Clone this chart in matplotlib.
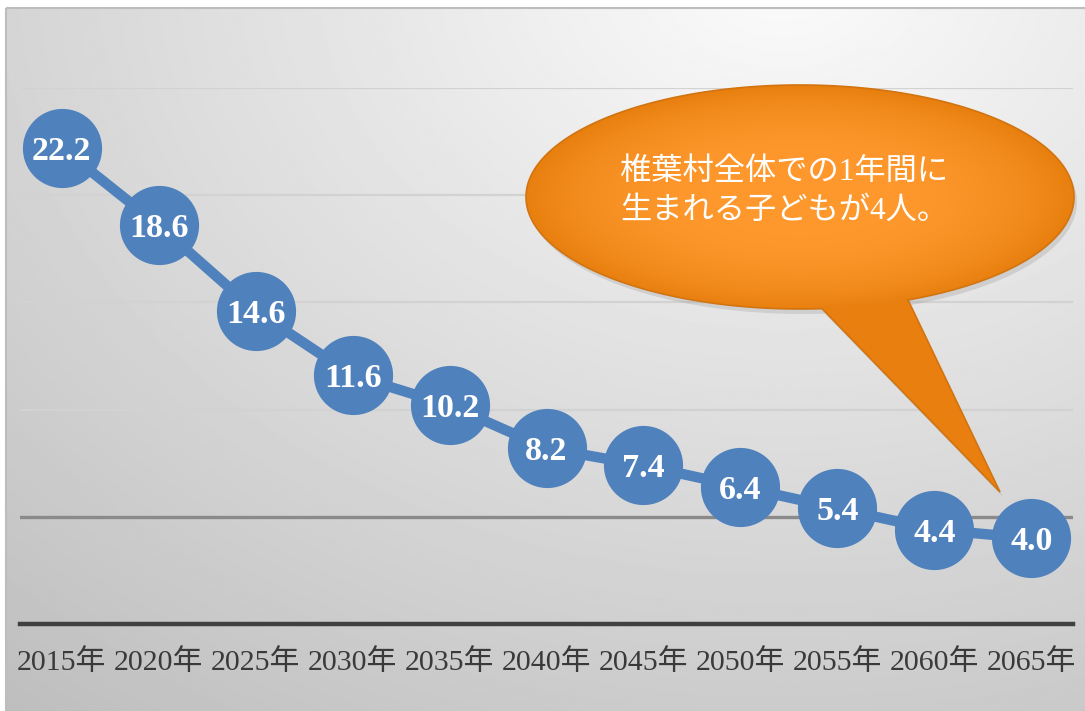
import numpy as np
import matplotlib.pyplot as plt
from matplotlib.patches import Polygon, Rectangle

# children born per year (Shiiba village), projection
years = ['2015年', '2020年', '2025年', '2030年', '2035年', '2040年',
         '2045年', '2050年', '2055年', '2060年', '2065年']
births = [22.2, 18.6, 14.6, 11.6, 10.2, 8.2, 7.4, 6.4, 5.4, 4.4, 4.0]
bubble_lines = ['椎葉村全体での1年間に', '生まれる子どもが4人。']

W, H = 1085, 711
BLUE = '#4F81BD'
FONTS = ['Liberation Serif', 'Noto Sans CJK JP', 'DejaVu Sans']

fig = plt.figure(figsize=(W / 100, H / 100), dpi=100)
fig.patch.set_facecolor('white')

# background panel with gray gradient
bg = fig.add_axes([0, 0, 1, 1], zorder=0)
bg.set_xlim(0, W)
bg.set_ylim(H, 0)
bg.axis('off')
gx, gy = np.meshgrid(np.linspace(0, 1, 600), np.linspace(0, 1, 400))
d = np.sqrt(((gx - 0.72) * 1.0) ** 2 + ((gy + 0.05) * 0.85) ** 2)
shade = 0.985 - 0.21 * d
bg.imshow(shade, cmap='gray', vmin=0, vmax=1, extent=(6, W, H, 8),
          aspect='auto', interpolation='bilinear', zorder=0)
bg.add_patch(Rectangle((6, 8), W, H, fill=False, edgecolor='#bdbdbd',
                       linewidth=1.5, zorder=1))

# main chart
ax = fig.add_axes([20 / W, (H - 624) / H, (1073 - 20) / W, (624 - 88) / H],
                  zorder=1)
ax.patch.set_alpha(0)
x = np.arange(len(years))
ax.set_xlim(-0.43, len(years) - 1 + 0.43)
ax.set_ylim(0, 25)
ax.set_yticks([0, 5, 10, 15, 20, 25])
ax.yaxis.grid(True)
for i, gl in enumerate(ax.get_ygridlines()):
    if i == 0:
        gl.set_visible(False)
    elif i == 1:
        gl.set_color('#8a8a8a')
        gl.set_linewidth(2.4)
    else:
        gl.set_color('#d2d2d2')
        gl.set_linewidth(1.6)
ax.set_axisbelow(True)
for s in ['top', 'right', 'left']:
    ax.spines[s].set_visible(False)
ax.spines['bottom'].set_color('#404040')
ax.spines['bottom'].set_linewidth(3.2)
ax.tick_params(axis='y', left=False, labelleft=False)
ax.tick_params(axis='x', length=0, pad=18)
ax.set_xticks(x)
ax.set_xticklabels(years, fontsize=21.5, color='#3a3a3a', family=FONTS)

ax.plot(x, births, color=BLUE, linewidth=7.5, marker='o', markersize=57,
        markerfacecolor=BLUE, markeredgecolor=BLUE, markeredgewidth=0,
        zorder=3, clip_on=False)
for xi, v in zip(x, births):
    ax.text(xi, v, f'{v:.1f}', ha='center', va='center_baseline',
            color='white', fontsize=24.5, fontweight='bold',
            family='Liberation Serif', zorder=4)

# speech bubble overlay
ov = fig.add_axes([0, 0, 1, 1], zorder=2)
ov.set_xlim(0, W)
ov.set_ylim(H, 0)
ov.axis('off')
ov.patch.set_alpha(0)

cx, cy, a, b = 800, 197, 274, 112
t0 = np.arccos((822 - cx) / a)
t1 = np.arccos((908 - cx) / a)
t = np.linspace(t0, 2 * np.pi + t1, 300)
pts = np.column_stack([cx + a * np.cos(t), cy + b * np.sin(t)])
pts = np.vstack([pts, [[1000, 492]]])

shadow = Polygon(pts + [3, 5], closed=True, facecolor='#9a9a9a',
                 edgecolor='none', alpha=0.3, zorder=1)
ov.add_patch(shadow)
bubble = Polygon(pts, closed=True, facecolor='#F99624', edgecolor='none',
                 zorder=2)
ov.add_patch(bubble)
bx, by = np.meshgrid(np.linspace(-1, 1, 300), np.linspace(-1, 1, 300))
ex = bx
ey = (by + 0.45) / 0.55
r = np.clip(np.sqrt(ex ** 2 + ey ** 2), 0, 1) ** 3
c0 = np.array([1.0, 0.60, 0.18])
c1 = np.array([0.91, 0.50, 0.06])
img = c0[None, None, :] * (1 - r[..., None]) + c1[None, None, :] * r[..., None]
im = ov.imshow(img, extent=(cx - a, cx + a, 493, cy - b), aspect='auto',
               zorder=3)
im.set_clip_path(bubble)
ov.add_patch(Polygon(pts, closed=True, fill=False, edgecolor='#D27410',
                     linewidth=1.2, zorder=4))

ov.text(620, 172, bubble_lines[0], color='white', fontsize=22.5,
        family=FONTS, va='center', ha='left', zorder=5)
ov.text(620, 211, bubble_lines[1], color='white', fontsize=22.5,
        family=FONTS, va='center', ha='left', zorder=5)

fig.savefig('out.png', dpi=100)
